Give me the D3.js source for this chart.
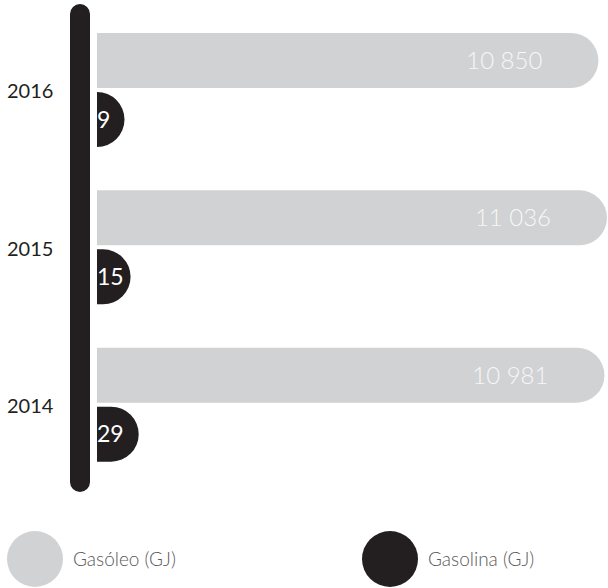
<!DOCTYPE html>
<html>
<head>
<meta charset="utf-8">
<script src="https://cdn.jsdelivr.net/npm/d3@7"></script>
<style>
  html, body { margin: 0; padding: 0; background: #fff; }
  svg { display: block; }
  text { font-family: Lato, "Open Sans", sans-serif; }
</style>
</head>
<body>
<svg id="chart" width="608" height="588"></svg>
<script>
// Energy consumption by fuel, per year (GJ)
const years = ["2016", "2015", "2014"];
const gasoleo = [10850, 11036, 10981];
const gasolina = [9, 15, 29];
const seriesNames = ["Gasóleo (GJ)", "Gasolina (GJ)"];

const GREY = "#d1d2d4";
const DARK = "#231f20";

const svg = d3.select("#chart");
const x0 = 97;          // left edge shared by every bar
const barH = 55;        // height of each bar
const r = barH / 2;     // rounded right-end radius

// one band per year, holding a grey bar above a dark bar
const yBand = d3.scaleBand().domain(years).range([33, 505]).paddingInner(0).paddingOuter(0);
const inner = d3.scaleBand().domain(["gasoleo", "gasolina"]).range([0, barH * 2 + 6]).padding(0);

const xGas = d3.scaleLinear().domain([0, 11036]).range([x0, 607]);
const wPetrol = d3.scaleLog().domain([9, 29]).range([27.3, 41.7]);

// flat left edge, semicircular right end
function pill(x, y, w) {
  const straight = Math.max(0, w - r);
  return `M${x},${y}H${x + straight}A${r},${r} 0 0 1 ${x + straight},${y + barH}H${x}Z`;
}

// spine
svg.append("rect")
  .attr("x", 70).attr("y", 4)
  .attr("width", 20).attr("height", 488)
  .attr("rx", 10).attr("fill", DARK);

const groups = svg.selectAll("g.year")
  .data(years.map((yr, i) => ({ yr, g: gasoleo[i], p: gasolina[i] })))
  .join("g")
  .attr("class", "year")
  .attr("transform", d => `translate(0,${yBand(d.yr)})`);

// grey bars
groups.append("path")
  .attr("d", d => pill(x0, inner("gasoleo"), xGas(d.g) - x0))
  .attr("fill", GREY);

groups.append("text")
  .attr("x", d => xGas(d.g) - 56)
  .attr("y", inner("gasoleo") + barH / 2)
  .attr("dy", "0.36em")
  .attr("text-anchor", "end")
  .attr("font-size", 24)
  .attr("font-weight", 300)
  .attr("fill", "#f7f7f7")
  .text(d => d3.format(",")(d.g).replace(",", " "));

// dark bars
groups.append("path")
  .attr("d", d => pill(x0, inner("gasolina") + 1, wPetrol(d.p)))
  .attr("fill", DARK);

groups.append("text")
  .attr("x", x0)
  .attr("y", inner("gasolina") + 1 + barH / 2)
  .attr("dy", "0.36em")
  .attr("font-size", 23)
  .attr("fill", "#fff")
  .text(d => d.p);

// year labels, between the two bars
groups.append("text")
  .attr("x", 7)
  .attr("y", barH + 3)
  .attr("dy", "0.36em")
  .attr("font-size", 20)
  .attr("fill", DARK)
  .text(d => d.yr);

// legend
const legend = svg.selectAll("g.legend")
  .data(seriesNames.map((name, i) => ({ name, color: i === 0 ? GREY : DARK, x: i === 0 ? 35 : 390 })))
  .join("g")
  .attr("class", "legend")
  .attr("transform", d => `translate(${d.x},559)`);

legend.append("circle").attr("r", 28).attr("fill", d => d.color);
legend.append("text")
  .attr("x", 38)
  .attr("dy", "0.36em")
  .attr("font-size", 19)
  .attr("font-weight", 300)
  .attr("fill", "#58595b")
  .text(d => d.name);
</script>
</body>
</html>
